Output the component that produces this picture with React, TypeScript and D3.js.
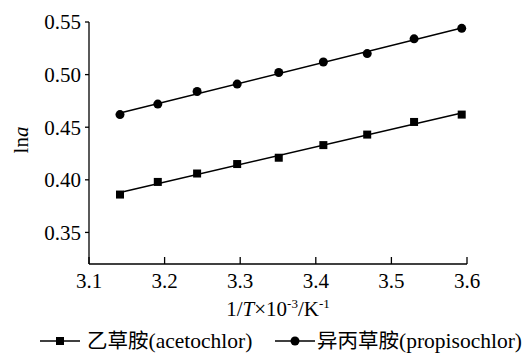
import * as d3 from 'd3'

// 1/T ×10^-3 (K^-1)
const invT = [3.141, 3.191, 3.243, 3.296, 3.351, 3.41, 3.468, 3.53, 3.593]

// ln(alpha) for each herbicide
const acetochlor = [0.386, 0.398, 0.406, 0.415, 0.421, 0.433, 0.443, 0.455, 0.462]
const propisochlor = [0.462, 0.472, 0.484, 0.491, 0.502, 0.512, 0.52, 0.534, 0.544]

const xTicks = [3.1, 3.2, 3.3, 3.4, 3.5, 3.6]
const yTicks = [0.35, 0.4, 0.45, 0.5, 0.55]

const FONT = '"Liberation Serif", "Times New Roman", Times, serif'
const CJK = '"Noto Sans CJK SC", sans-serif'

const W = 528
const H = 355
const left = 89
const right = 467
const top = 22
const bottom = 264

const x = d3.scaleLinear().domain([3.1, 3.6]).range([left, right])
const y = d3.scaleLinear().domain([0.32, 0.55]).range([bottom, top])

// least squares fit for the trend lines
const fit = (xs: number[], ys: number[]) => {
  const mx = d3.mean(xs)!
  const my = d3.mean(ys)!
  let num = 0
  let den = 0
  xs.forEach((v, i) => {
    num += (v - mx) * (ys[i] - my)
    den += (v - mx) * (v - mx)
  })
  const k = num / den
  return (v: number) => my + k * (v - mx)
}

const Trend = ({ ys }: { ys: number[] }) => {
  const f = fit(invT, ys)
  const x0 = invT[0]
  const x1 = invT[invT.length - 1]
  return (
    <line x1={x(x0)} y1={y(f(x0))} x2={x(x1)} y2={y(f(x1))} stroke="#000" strokeWidth={1.5} />
  )
}

const App = () => {
  return (
    <div style={{ position: 'absolute', left: 0, top: 0 }}>
      <svg width={W} height={H} style={{ display: 'block', background: '#fff' }}>
        {/* axes */}
        <line x1={left} y1={top} x2={left} y2={bottom} stroke="#000" strokeWidth={1.3} />
        <line x1={left} y1={bottom} x2={right} y2={bottom} stroke="#000" strokeWidth={1.3} />
        {yTicks.map(t => (
          <g key={t}>
            <line x1={left - 4} x2={left} y1={y(t)} y2={y(t)} stroke="#000" strokeWidth={1.3} />
            <text x={left - 8} y={y(t)} dy="0.35em" textAnchor="end" style={{ fontFamily: FONT, fontSize: 21 }}>
              {d3.format('.2f')(t)}
            </text>
          </g>
        ))}
        {xTicks.map(t => (
          <g key={t}>
            <line x1={x(t)} x2={x(t)} y1={bottom} y2={bottom - 7} stroke="#000" strokeWidth={1.3} />
            <text x={x(t)} y={288} textAnchor="middle" style={{ fontFamily: FONT, fontSize: 21 }}>
              {d3.format('.1f')(t)}
            </text>
          </g>
        ))}

        {/* axis titles */}
        <text x={(left + right) / 2} y={316} textAnchor="middle" style={{ fontFamily: FONT, fontSize: 21 }}>
          1/<tspan fontStyle="italic">T</tspan>×10
          <tspan fontSize={13} dy={-8}>-3</tspan>
          <tspan dy={8}>/K</tspan>
          <tspan fontSize={13} dy={-8}>-1</tspan>
        </text>
        <text transform={`translate(28, 140) rotate(-90)`} textAnchor="middle" style={{ fontFamily: FONT, fontSize: 21 }}>
          ln<tspan fontStyle="italic">a</tspan>
        </text>

        {/* series */}
        <Trend ys={acetochlor} />
        <Trend ys={propisochlor} />
        {acetochlor.map((v, i) => (
          <rect key={i} x={x(invT[i]) - 4} y={y(v) - 4} width={8} height={8} fill="#000" />
        ))}
        {propisochlor.map((v, i) => (
          <circle key={i} cx={x(invT[i])} cy={y(v)} r={4.5} fill="#000" />
        ))}

        {/* legend */}
        <line x1={40} x2={80} y1={341} y2={341} stroke="#000" strokeWidth={1.5} />
        <rect x={56} y={337} width={8} height={8} fill="#000" />
        <text x={87} y={348} style={{ fontFamily: FONT, fontSize: 21.5 }}>
          <tspan style={{ fontFamily: CJK, fontSize: 20.5 }}>乙草胺</tspan>
          <tspan>(acetochlor)</tspan>
        </text>
        <line x1={275} x2={315} y1={341} y2={341} stroke="#000" strokeWidth={1.5} />
        <circle cx={295} cy={341} r={4.5} fill="#000" />
        <text x={317} y={348} style={{ fontFamily: FONT, fontSize: 21.5 }}>
          <tspan style={{ fontFamily: CJK, fontSize: 20.5 }}>异丙草胺</tspan>
          <tspan>(propisochlor)</tspan>
        </text>
      </svg>
    </div>
  )
}

export default App
